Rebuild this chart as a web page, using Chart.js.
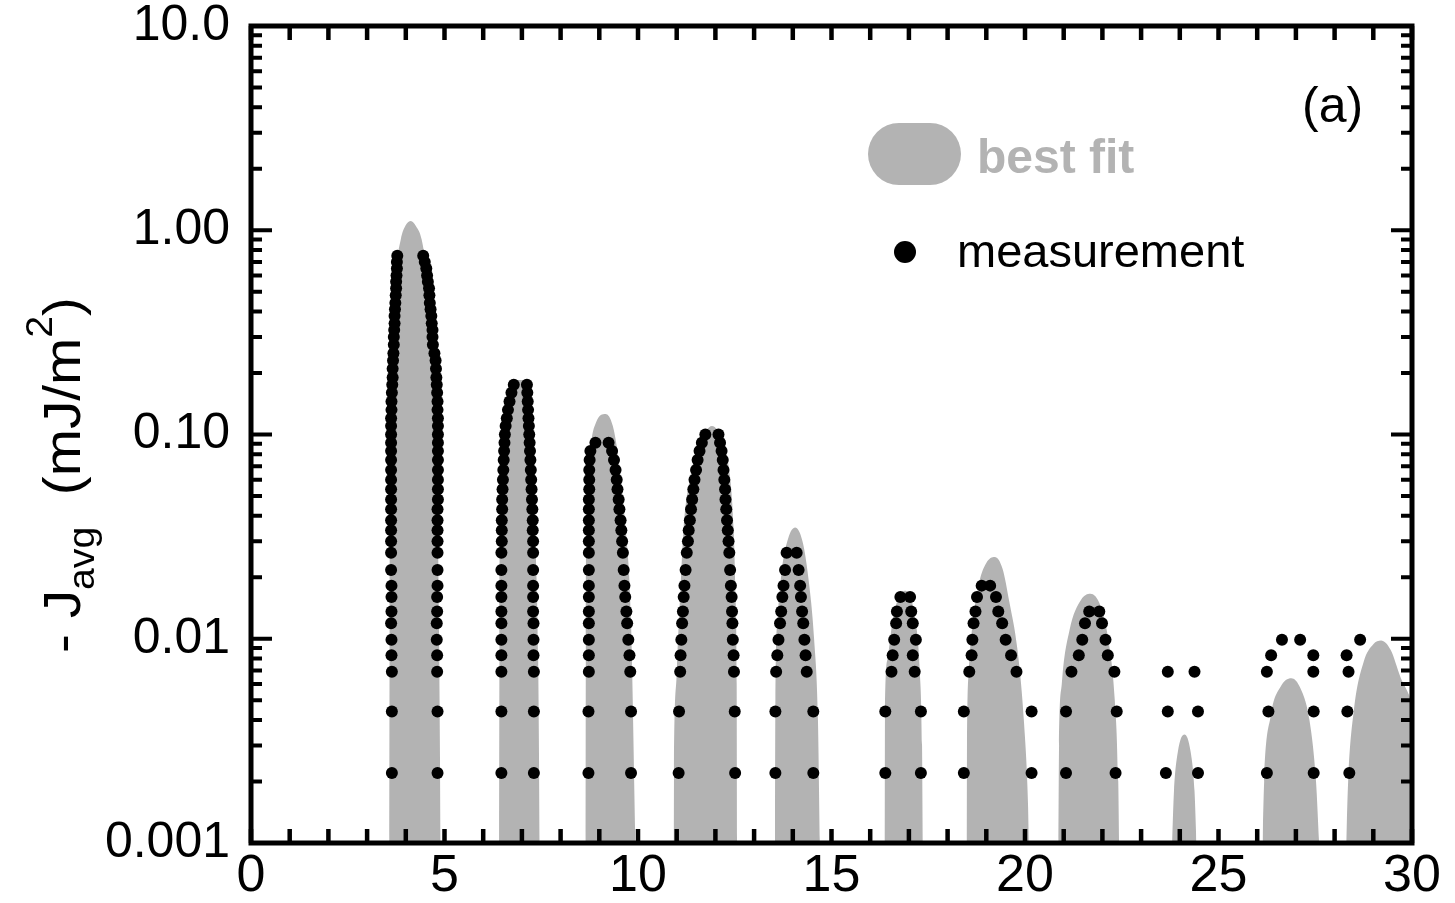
<!DOCTYPE html>
<html>
<head>
<meta charset="utf-8">
<script src="https://cdn.jsdelivr.net/npm/chart.js@4.4.1/dist/chart.umd.min.js"></script>
<style>
  html, body { margin: 0; padding: 0; background: #fff; }
  #wrap { width: 1455px; height: 903px; position: relative; }
</style>
</head>
<body>
<div id="wrap"><canvas id="jChart"></canvas></div>
<script>
// ---- data ----
// J levels (mJ/m^2) at which measurement dots sit, shared by all humps
const jLevels = [0.0022, 0.0044, 0.0069, 0.0083, 0.0099, 0.0119, 0.0136, 0.016, 0.0182, 0.0217, 0.0264,
  0.03, 0.034, 0.038, 0.043, 0.048, 0.054, 0.06, 0.067, 0.075, 0.083, 0.091, 0.1,
  0.11, 0.12, 0.132, 0.145, 0.16, 0.175, 0.19, 0.21, 0.23, 0.25, 0.275, 0.3, 0.325,
  0.35, 0.38, 0.41, 0.44, 0.48, 0.52, 0.56, 0.6, 0.65, 0.7, 0.75];

// measurement: x of the left / right dot of each hump, one per level (from the bottom up)
const measLeft = [
  [3.64,3.64,3.64,3.63,3.63,3.62,3.63,3.63,3.63,3.62,3.62, 3.62,3.62,3.62,3.62,3.62,3.62,3.62,3.62,3.62,3.62,3.62,3.62,
   3.62,3.62,3.63,3.63,3.64,3.65,3.66,3.66,3.67,3.68,3.69,3.69,3.70,3.71,3.71,3.72,3.73,3.74,3.75,3.75,3.76,3.77,3.77,3.78],
  [6.47,6.47,6.47,6.47,6.47,6.47,6.47,6.47,6.47,6.47,6.47, 6.48,6.48,6.48,6.49,6.49,6.50,6.51,
   6.52,6.53,6.54,6.55,6.56,6.58,6.61,6.64,6.68,6.73,6.79],
  [8.72,8.72,8.73,8.73,8.73,8.73,8.73,8.73,8.73,8.73,8.73,8.73,8.73,8.73,8.73,8.73,8.74,8.74,8.74,8.75,8.77,8.90],
  [11.05,11.06,11.09,11.10,11.12,11.14,11.16,11.18,11.20,11.23,11.26,11.29,11.31,11.34,11.37,11.40,11.43,11.46,11.50,11.54,11.59,11.65,11.74],
  [13.55,13.55,13.57,13.60,13.63,13.67,13.70,13.73,13.76,13.80,13.84],
  [16.39,16.39,16.55,16.58,16.62,16.67,16.69,16.78],
  [18.42,18.42,18.56,18.62,18.64,18.67,18.72,18.76,18.88],
  [21.06,21.06,21.20,21.39,21.48,21.55,21.66],
  [23.64,23.69,23.69],
  [26.25,26.29,26.25,26.36,26.64],
  [28.38,28.33,28.36,28.31,28.66]
];
const measRight = [
  [4.82,4.82,4.81,4.81,4.80,4.80,4.81,4.81,4.82,4.82,4.82, 4.82,4.82,4.82,4.82,4.83,4.83,4.83,4.83,4.83,4.83,4.83,4.83,
   4.83,4.83,4.82,4.82,4.81,4.80,4.79,4.78,4.77,4.74,4.70,4.69,4.69,4.67,4.66,4.64,4.62,4.61,4.60,4.57,4.55,4.53,4.49,4.45],
  [7.31,7.31,7.31,7.30,7.30,7.30,7.29,7.29,7.29,7.29,7.29, 7.29,7.28,7.28,7.27,7.26,7.25,7.24,
   7.23,7.22,7.21,7.20,7.19,7.18,7.17,7.16,7.15,7.14,7.13],
  [9.82,9.82,9.80,9.78,9.75,9.72,9.70,9.67,9.65,9.63,9.61,9.59,9.57,9.55,9.52,9.50,9.47,9.45,9.42,9.38,9.33,9.24],
  [12.51,12.50,12.48,12.47,12.45,12.44,12.43,12.42,12.40,12.38,12.36,12.34,12.32,12.30,12.28,12.26,12.25,12.23,12.21,12.19,12.16,12.12,12.08],
  [14.53,14.53,14.36,14.33,14.30,14.27,14.24,14.21,14.19,14.15,14.10],
  [17.31,17.31,17.15,17.10,17.18,17.10,17.06,17.03],
  [20.17,20.17,19.78,19.64,19.50,19.41,19.31,19.25,19.10],
  [22.34,22.37,22.31,22.14,22.08,21.99,21.92],
  [24.47,24.47,24.38],
  [27.46,27.46,27.45,27.45,27.11],
  []
];

// best fit: outline of each grey hump
const fitX = [
  [3.57,3.58,3.60,3.66,3.74,3.87,4.00,4.13,4.26,4.41,4.55,4.70,4.80,4.86,4.90],
  [6.41,6.42,6.46,6.55,6.70,6.95,7.15,7.25,7.35,7.42,7.46],
  [8.64,8.65,8.68,8.76,8.92,9.16,9.35,9.50,9.68,9.82,9.93],
  [10.92,10.93,11.00,11.09,11.18,11.35,11.60,11.91,12.20,12.38,12.47,12.52,12.55,12.56],
  [13.54,13.55,13.60,13.72,13.88,14.06,14.25,14.40,14.55,14.65,14.70],
  [16.37,16.38,16.45,16.60,16.90,17.15,17.28,17.34,17.36],
  [18.49,18.50,18.55,18.65,18.82,19.00,19.22,19.42,19.60,19.80,19.97,20.08,20.10],
  [20.86,20.88,20.95,21.15,21.45,21.69,21.95,22.15,22.32,22.41,22.43],
  [23.80,23.85,23.95,24.12,24.28,24.38,24.43],
  [26.14,26.18,26.35,26.60,26.88,27.12,27.35,27.52,27.60],
  [28.30,28.35,28.50,28.75,29.00,29.20,29.45,29.70,30.00,30.30,30.50]
];
const fitJ = [
  [0.001,0.01,0.1,0.3,0.6,0.9,1.06,1.11,1.05,0.9,0.6,0.3,0.1,0.01,0.001],
  [0.001,0.01,0.05,0.11,0.165,0.185,0.165,0.1,0.03,0.008,0.001],
  [0.001,0.01,0.04,0.08,0.115,0.126,0.11,0.075,0.035,0.012,0.001],
  [0.001,0.0022,0.0068,0.0164,0.035,0.062,0.09,0.11,0.09,0.062,0.035,0.0164,0.006,0.001],
  [0.001,0.005,0.012,0.022,0.031,0.035,0.03,0.02,0.01,0.004,0.001],
  [0.001,0.004,0.008,0.013,0.0172,0.013,0.007,0.003,0.001],
  [0.001,0.003,0.007,0.012,0.019,0.0235,0.0251,0.022,0.015,0.009,0.004,0.0015,0.001],
  [0.001,0.003,0.006,0.011,0.0155,0.0166,0.0145,0.01,0.005,0.002,0.001],
  [0.001,0.0018,0.0028,0.0034,0.0028,0.0018,0.001],
  [0.001,0.002,0.0042,0.0058,0.0064,0.0057,0.004,0.002,0.001],
  [0.001,0.002,0.0045,0.0077,0.0094,0.0098,0.0088,0.0065,0.0048,0.0025,0.001]
];

// axes
const xTickValues = [0,1,2,3,4,5,6,7,8,9,10,11,12,13,14,15,16,17,18,19,20,21,22,23,24,25,26,27,28,29,30];
const xLabelValues = [0, 5, 10, 15, 20, 25, 30];
const yMajorValues = [0.001, 0.01, 0.1, 1, 10];
const yMajorLabels = ['0.001', '0.01', '0.10', '1.00', '10.0'];
const yMinorMantissa = [2, 3, 4, 5, 6, 7, 8, 9];

const GREY = '#b3b3b3';
const FONT = '"Liberation Sans", Arial, Helvetica, sans-serif';

/* ---------- build datasets ---------- */
const datasets = [];

const measPoints = [];
measLeft.forEach((col, h) => {
    col.forEach((x, i) => measPoints.push({ x, y: jLevels[i] }));
    measRight[h].forEach((x, i) => measPoints.push({ x, y: jLevels[i] }));
});
datasets.push({
    label: 'measurement',
    type: 'scatter',
    data: measPoints,
    order: 0,
    pointRadius: 6,
    pointBackgroundColor: '#000',
    pointBorderWidth: 0,
    showLine: false
});

fitX.forEach((xs, h) => {
    datasets.push({
        label: 'best fit',
        type: 'line',
        data: xs.map((x, i) => ({ x, y: fitJ[h][i] })),
        order: 1,
        fill: 'start',
        backgroundColor: GREY,
        borderWidth: 0,
        borderColor: GREY,
        pointRadius: 0,
        cubicInterpolationMode: 'monotone'
    });
});

/* ---------- frame, inward ticks, title, legend ---------- */
const decorations = {
    id: 'decorations',
    afterDatasetsDraw(chart) {
        const { ctx, chartArea: a, scales: { x, y } } = chart;
        ctx.save();
        ctx.strokeStyle = '#000';
        ctx.lineCap = 'butt';

        // x ticks, bottom and top
        ctx.lineWidth = 4.5;
        ctx.beginPath();
        xTickValues.forEach(v => {
            const px = x.getPixelForValue(v);
            ctx.moveTo(px, a.bottom); ctx.lineTo(px, a.bottom - 14);
            ctx.moveTo(px, a.top); ctx.lineTo(px, a.top + 14);
        });
        ctx.stroke();

        // y ticks, left and right
        const yTicks = [];
        yMajorValues.forEach(v => yTicks.push({ v, len: 21 }));
        yMajorValues.slice(0, -1).forEach(d => yMinorMantissa.forEach(m => yTicks.push({ v: d * m, len: 11 })));
        ctx.lineWidth = 4;
        ctx.beginPath();
        yTicks.forEach(t => {
            const py = y.getPixelForValue(t.v);
            ctx.moveTo(a.left, py); ctx.lineTo(a.left + t.len, py);
            ctx.moveTo(a.right, py); ctx.lineTo(a.right - t.len, py);
        });
        ctx.stroke();

        // frame
        ctx.lineWidth = 5;
        ctx.strokeRect(a.left, a.top, a.right - a.left, a.bottom - a.top);
        ctx.restore();
    },
    afterDraw(chart) {
        const { ctx } = chart;
        ctx.save();

        // y-axis title, rotated, with subscript and superscript
        const parts = [
            { t: '- J', size: 52, dy: 0 },
            { t: 'avg', size: 36, dy: 14 },
            { t: '  (mJ/m', size: 52, dy: 0 },
            { t: '2', size: 36, dy: -28 },
            { t: ')', size: 52, dy: 0 }
        ];
        let total = 0;
        parts.forEach(p => { ctx.font = `${p.size}px ${FONT}`; p.w = ctx.measureText(p.t).width; total += p.w; });
        const stretch = 356 / total;
        ctx.translate(80, 475);
        ctx.rotate(-Math.PI / 2);
        ctx.scale(stretch, 1);
        ctx.fillStyle = '#000';
        ctx.textBaseline = 'alphabetic';
        let cx = -total / 2;
        parts.forEach(p => {
            ctx.font = `${p.size}px ${FONT}`;
            ctx.fillText(p.t, cx, p.dy);
            cx += p.w;
        });
        ctx.setTransform(1, 0, 0, 1, 0, 0);

        // legend
        ctx.fillStyle = GREY;
        ctx.beginPath();
        ctx.roundRect(868, 123, 93, 62, 31);
        ctx.fill();
        ctx.font = `bold 48px ${FONT}`;
        ctx.fillText('best fit', 977, 173);

        ctx.fillStyle = '#000';
        ctx.beginPath();
        ctx.arc(905, 252, 11, 0, Math.PI * 2);
        ctx.fill();
        ctx.font = `47px ${FONT}`;
        ctx.fillText('measurement', 957, 267);

        ctx.font = `50px ${FONT}`;
        ctx.fillText('(a)', 1302, 122);
        ctx.restore();
    }
};

new Chart(document.getElementById('jChart').getContext('2d'), {
    type: 'scatter',
    data: { datasets },
    options: {
        responsive: true,
        maintainAspectRatio: false,
        animation: false,
        events: [],
        layout: { padding: { left: 0, top: 26, right: 43, bottom: 0 } },
        plugins: { legend: { display: false }, tooltip: { enabled: false } },
        scales: {
            x: {
                type: 'linear',
                min: 0,
                max: 30,
                grid: { display: false, drawTicks: false },
                border: { display: false },
                afterBuildTicks: s => { s.ticks = xLabelValues.map(v => ({ value: v })); },
                afterFit: s => { s.height = 60; s.paddingLeft = 0; s.paddingRight = 0; },
                ticks: {
                    autoSkip: false,
                    maxRotation: 0,
                    padding: 8,
                    color: '#000',
                    font: { family: FONT, size: 52, lineHeight: 1 },
                    callback: v => String(v)
                }
            },
            y: {
                type: 'logarithmic',
                min: 0.001,
                max: 10,
                grid: { display: false, drawTicks: false },
                border: { display: false },
                afterBuildTicks: s => { s.ticks = yMajorValues.map(v => ({ value: v })); },
                afterFit: s => { s.width = 251; s.paddingTop = 0; s.paddingBottom = 0; },
                ticks: {
                    autoSkip: false,
                    padding: 21,
                    color: '#000',
                    font: { family: FONT, size: 50, lineHeight: 1 },
                    callback: (v, i) => yMajorLabels[i]
                }
            }
        }
    },
    plugins: [decorations]
});
</script>
</body>
</html>
